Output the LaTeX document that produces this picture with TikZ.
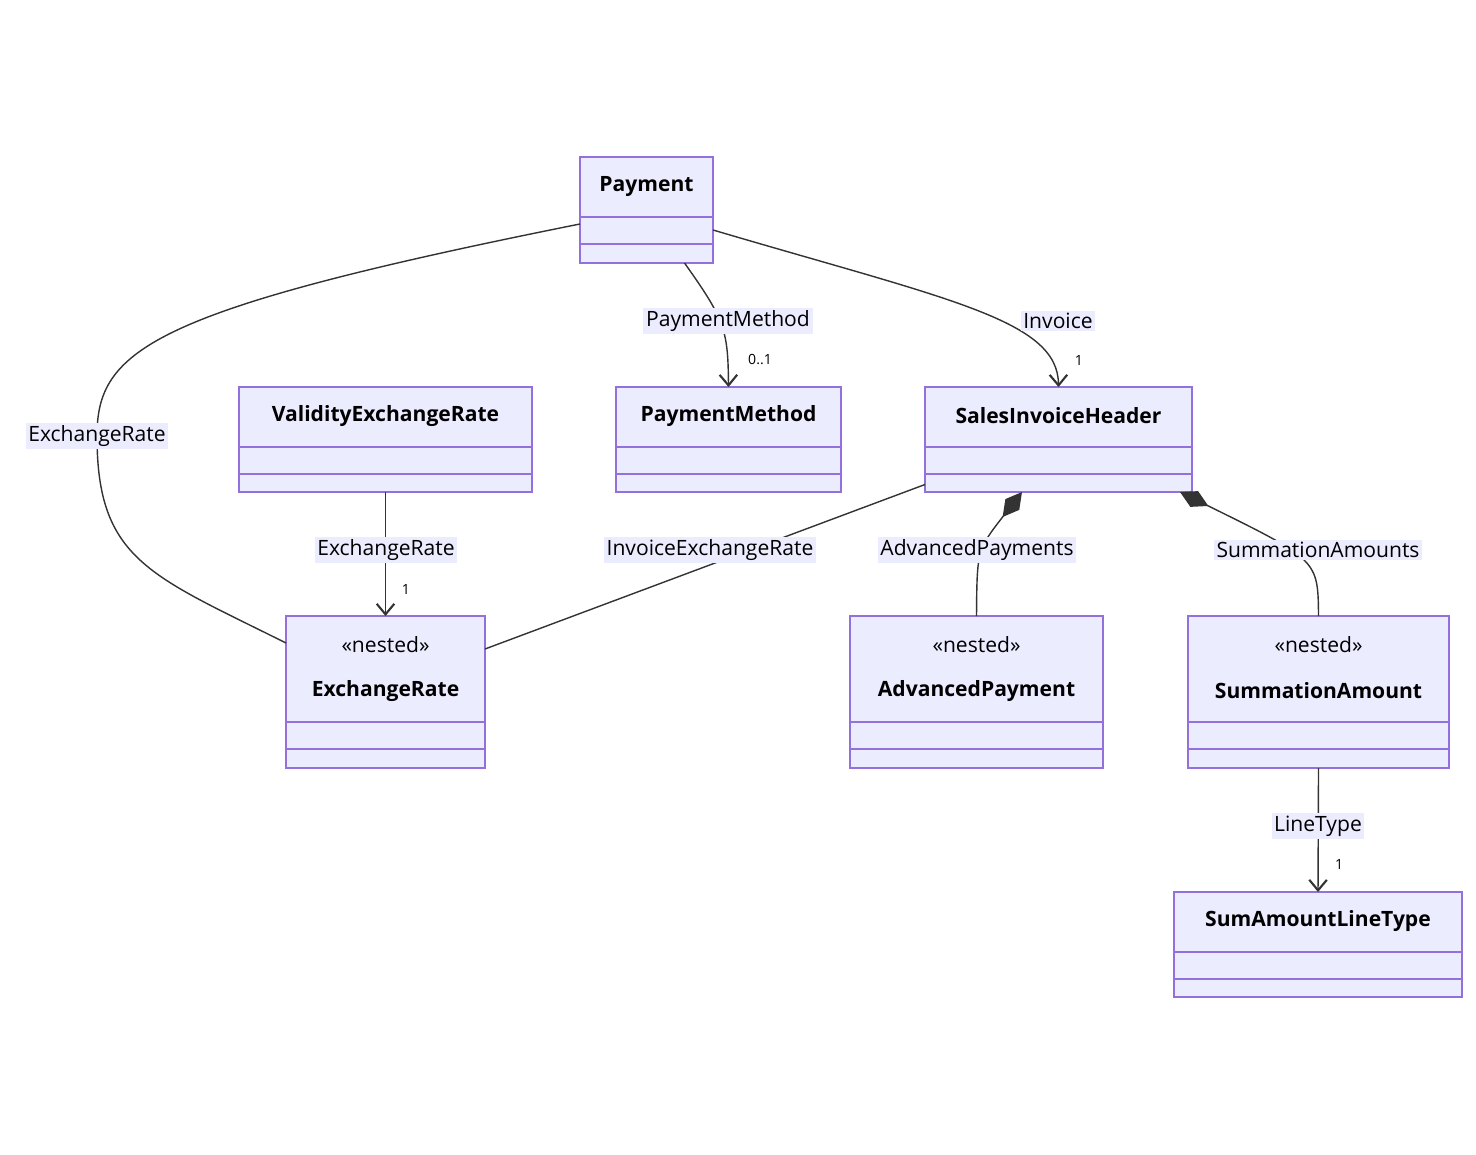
\documentclass[tikz,border=0pt]{standalone}
\usepackage{fontspec}
\setmainfont{Open Sans}
\usetikzlibrary{calc}
\usetikzlibrary{arrows.meta}
\definecolor{classfill}{HTML}{ECECFF}
\definecolor{classdraw}{HTML}{9370DB}
\definecolor{edgecol}{HTML}{333333}
\tikzset{
  classbox/.style={draw=classdraw, fill=classfill, line width=0.9pt, inner sep=0pt, outer sep=0pt},
  classline/.style={draw=classdraw, line width=0.9pt},
  classname/.style={font=\fontsize{12}{14}\selectfont\bfseries, text=black},
  stereo/.style={font=\fontsize{12}{14}\selectfont, text=black},
  rel/.style={draw=edgecol, line width=0.8pt},
  lbl/.style={fill=classfill, inner sep=1.5pt, font=\fontsize{12}{14}\selectfont, text=black},
  mult/.style={font=\fontsize{8}{10}\selectfont, text=black},
  to/.style={-{Straight Barb[length=6pt,width=10pt,line width=1.2pt]}},
  comp/.style={{Diamond[length=18pt,width=10pt]}-}
}
% name, x1, y1, x2, y2, divider 1, divider 2
\newcommand{\umlbox}[7]{%
  \node[classbox, minimum width={(#4-#2)*0.02cm}, minimum height={(#5-#3)*0.02cm}]
    (#1) at ({(#2+#4)/2},{(#3+#5)/2}) {};
  \draw[classline] (#2,#6) -- (#4,#6);
  \draw[classline] (#2,#7) -- (#4,#7);
}
\begin{document}
\begin{tikzpicture}[x=0.02cm, y=-0.02cm]
  \useasboundingbox (0,0) rectangle (1476,1155);

  % classes
  \umlbox{pay}{580}{157}{713}{263}{217}{244}
  \node[classname] at (646.5,187) {Payment};
  \umlbox{ver}{239}{387}{532}{492}{447}{474}
  \node[classname] at (385.5,416) {ValidityExchangeRate};
  \umlbox{pm}{616}{387}{841}{492}{447}{474}
  \node[classname] at (728.5,416) {PaymentMethod};
  \umlbox{sih}{925}{387}{1192}{492}{447}{474}
  \node[classname] at (1058.5,416) {SalesInvoiceHeader};
  \umlbox{er}{286}{616}{485}{768}{722}{749}
  \node[stereo] at (385.5,645) {«nested»};
  \node[classname] at (385.5,691) {ExchangeRate};
  \umlbox{ap}{850}{616}{1103}{768}{722}{749}
  \node[stereo] at (976.5,645) {«nested»};
  \node[classname] at (976.5,691) {AdvancedPayment};
  \umlbox{sa}{1188}{616}{1449}{768}{722}{749}
  \node[stereo] at (1318.5,645) {«nested»};
  \node[classname] at (1318.5,691) {SummationAmount};
  \umlbox{salt}{1174}{892}{1462}{997}{952}{979}
  \node[classname] at (1318,921) {SumAmountLineType};

  % relations
  \draw[rel] ($(pay.west)+(0,14)$) .. controls (150,310) and (97,350) .. (97,436)
    .. controls (97,560) and (150,575) .. ($(er.west)+(0,-49)$);
  \node[lbl] at (97,436) {ExchangeRate};

  \draw[rel, to] ($(pay.south)+(38,0)$) .. controls (725,320) and (728,330) .. (pm.north);
  \node[lbl] at (728,321) {PaymentMethod};
  \node[mult] at (760,360) {0..1};

  \draw[rel, to] ($(pay.east)+(0,20)$) .. controls (950,300) and (1058,320) .. (sih.north);
  \node[lbl] at (1058,321) {Invoice};
  \node[mult] at (1079,360) {1};

  \draw[rel, to] (ver.south) -- (er.north);
  \node[lbl] at (386,550) {ExchangeRate};
  \node[mult] at (406,589) {1};

  \draw[rel] ($(sih.west)+(0,45)$) -- ($(er.east)+(0,-43)$);
  \node[lbl] at (710,550) {InvoiceExchangeRate};

  \draw[rel, comp] ($(sih.south west)+(97,0)$) .. controls (977,550) .. ($(ap.north)$);
  \node[lbl] at (977,550) {AdvancedPayments};

  \draw[rel, comp] ($(sih.south east)+(-12,0)$) .. controls (1318,560) .. (sa.north);
  \node[lbl] at (1318,550) {SummationAmounts};

  \draw[rel, to] (sa.south) -- (salt.north);
  \node[lbl] at (1318,826) {LineType};
  \node[mult] at (1339,864) {1};
\end{tikzpicture}
\end{document}
